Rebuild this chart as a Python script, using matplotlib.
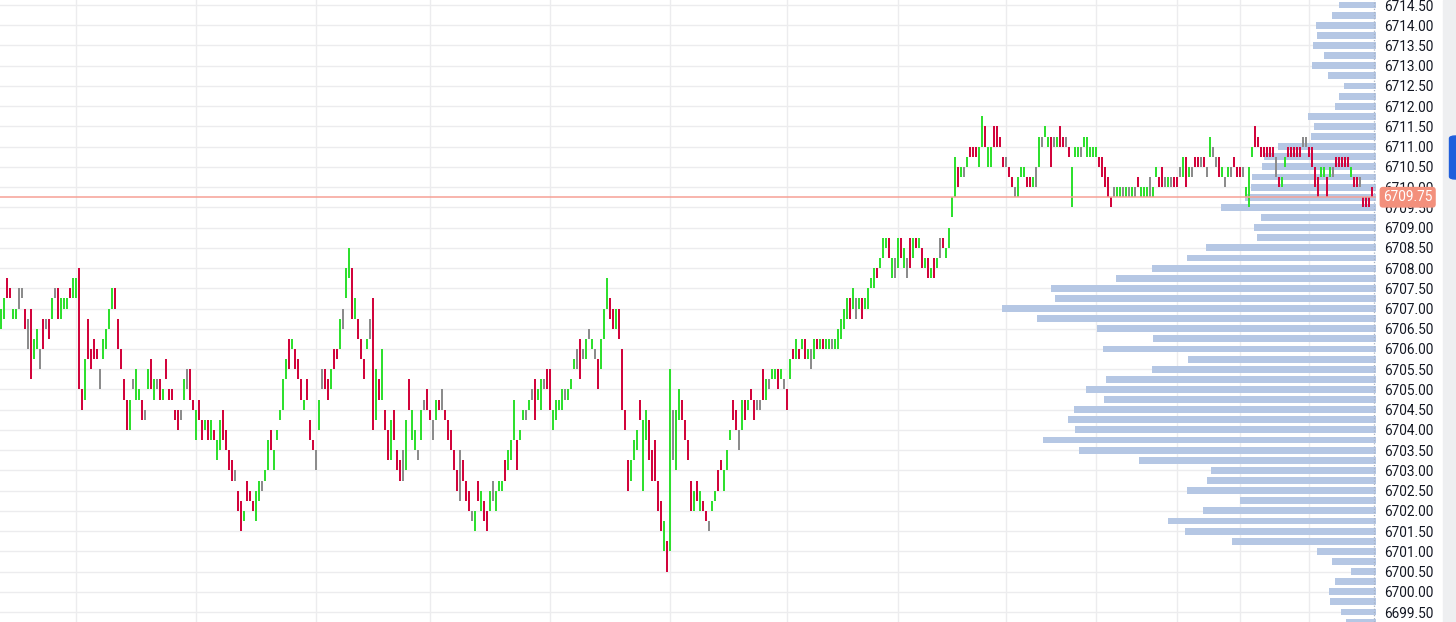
import matplotlib
matplotlib.use("Agg")
import matplotlib.pyplot as plt
import numpy as np
from matplotlib.transforms import blended_transform_factory
from matplotlib.patches import Rectangle, FancyBboxPatch

plt.rcParams['font.family'] = ['Roboto', 'DejaVu Sans']

# ---------------- candle data (low / high / direction), 10 candles per line ----------------
lows = [
    6706.5, 6706.75, 6707.25, 6707.25, 6706.75, 6706.75, 6707.0, 6707.25, 6706.5, 6706.0,
    6705.25, 6705.75, 6706.0, 6705.5, 6706.0, 6706.5, 6706.25, 6706.75, 6707.25, 6706.75,
    6706.75, 6707.0, 6707.0, 6707.25, 6707.25, 6707.25, 6705.0, 6704.5, 6704.75, 6705.75,
    6705.5, 6705.75, 6705.75, 6705.0, 6705.75, 6706.0, 6706.5, 6707.0, 6707.0, 6706.0,
    6705.5, 6704.75, 6704.0, 6704.0, 6705.0, 6704.75, 6704.75, 6704.25, 6704.25, 6705.0,
    6705.0, 6704.75, 6705.0, 6704.75, 6704.75, 6705.25, 6704.75, 6704.75, 6704.25, 6704.0,
    6704.25, 6704.75, 6705.0, 6704.75, 6704.5, 6703.75, 6704.25, 6703.75, 6704.0, 6703.75,
    6703.75, 6703.75, 6703.25, 6703.5, 6703.75, 6703.5, 6703.0, 6702.75, 6702.75, 6702.0,
    6701.5, 6701.75, 6702.25, 6702.25, 6702.0, 6701.75, 6702.25, 6702.5, 6702.75, 6703.0,
    6703.5, 6703.0, 6703.75, 6704.25, 6704.5, 6705.25, 6705.5, 6706.0, 6705.5, 6705.25,
    6704.75, 6704.5, 6704.75, 6703.75, 6703.5, 6703.0, 6704.0, 6705.0, 6705.0, 6704.75,
    6705.0, 6705.5, 6705.75, 6706.0, 6706.5, 6707.25, 6707.75, 6706.75, 6706.75, 6706.25,
    6705.75, 6705.25, 6706.0, 6706.25, 6704.0, 6704.25, 6704.75, 6704.75, 6704.0, 6703.25,
    6703.25, 6703.75, 6703.0, 6702.75, 6702.75, 6703.0, 6704.5, 6703.75, 6703.5, 6703.25,
    6703.75, 6704.5, 6704.5, 6704.25, 6703.75, 6704.25, 6704.5, 6704.5, 6704.25, 6703.75,
    6703.5, 6703.0, 6702.5, 6702.25, 6702.75, 6702.25, 6702.0, 6701.75, 6701.5, 6702.25,
    6702.0, 6701.75, 6701.5, 6702.0, 6702.25, 6702.0, 6702.5, 6702.5, 6702.75, 6703.0,
    6703.25, 6703.75, 6703.0, 6703.75, 6704.25, 6704.25, 6704.5, 6704.75, 6704.25, 6704.75,
    6704.5, 6705.0, 6705.0, 6704.5, 6704.0, 6704.25, 6704.5, 6704.5, 6704.75, 6704.75,
    6705.0, 6705.5, 6705.5, 6705.25, 6705.75, 6705.75, 6706.25, 6706.0, 6705.75, 6705.0,
    6705.5, 6706.25, 6707.0, 6706.75, 6706.5, 6706.5, 6706.25, 6704.5, 6704.0, 6702.5,
    6702.75, 6703.25, 6703.5, 6704.25, 6702.5, 6703.75, 6703.25, 6702.75, 6702.75, 6702.0,
    6701.5, 6701.0, 6700.5, 6701.0, 6703.25, 6703.0, 6704.25, 6704.25, 6703.75, 6703.25,
    6702.0, 6702.0, 6702.25, 6702.0, 6702.0, 6701.75, 6701.5, 6702.0, 6702.25, 6702.5,
    6703.0, 6702.5, 6703.0, 6703.75, 6704.25, 6704.0, 6703.5, 6704.0, 6704.25, 6704.5,
    6704.75, 6704.25, 6704.5, 6704.5, 6704.75, 6704.75, 6705.0, 6705.25, 6705.25, 6705.0,
    6705.25, 6705.0, 6704.5, 6705.25, 6705.75, 6705.75, 6705.75, 6706.0, 6705.75, 6705.75,
    6705.5, 6705.75, 6706.0, 6706.0, 6706.0, 6706.0, 6706.0, 6706.0, 6706.0, 6706.0,
    6706.25, 6706.5, 6706.75, 6706.75, 6707.0, 6706.75, 6707.0, 6706.75, 6707.0, 6707.0,
    6707.5, 6707.5, 6707.75, 6708.0, 6708.25, 6708.5, 6708.25, 6707.75, 6707.75, 6708.0,
    6708.25, 6708.0, 6707.75, 6708.0, 6708.25, 6708.5, 6708.5, 6708.0, 6708.0, 6707.75,
    6707.75, 6707.75, 6708.0, 6708.25, 6708.5, 6708.25, 6708.5, 6709.25, 6709.75, 6710.0,
    6710.25, 6710.25, 6710.5, 6710.75, 6710.75, 6710.75, 6710.5, 6711.0, 6711.0, 6710.5,
    6710.5, 6711.0, 6711.0, 6711.0, 6710.5, 6710.5, 6710.25, 6710.0, 6709.75, 6709.75,
    6710.25, 6710.25, 6710.0, 6710.0, 6710.0, 6710.0, 6710.5, 6711.0, 6711.25, 6711.0,
    6710.5, 6711.0, 6711.0, 6711.0, 6711.0, 6711.0, 6710.75, 6709.5, 6710.75, 6710.75,
    6710.75, 6711.0, 6710.75, 6710.75, 6710.75, 6710.75, 6710.5, 6710.25, 6710.0, 6709.75,
    6709.5, 6709.75, 6709.75, 6709.75, 6709.75, 6709.75, 6709.75, 6709.75, 6709.75, 6710.0,
    6709.75, 6709.75, 6709.75, 6709.75, 6709.75, 6710.25, 6710.0, 6710.0, 6710.0, 6710.0,
    6710.0, 6710.0, 6710.0, 6710.25, 6710.25, 6710.0, 6710.25, 6710.25, 6710.5, 6710.5,
    6710.5, 6710.5, 6710.25, 6710.75, 6710.75, 6710.5, 6710.25, 6710.25, 6710.0, 6710.25,
    6710.25, 6710.5, 6710.25, 6710.25, 6710.25, 6709.75, 6709.5, 6710.75, 6711.0, 6711.0,
    6710.75, 6710.75, 6710.75, 6710.75, 6710.75, 6710.25, 6710.0, 6710.0, 6710.5, 6710.75,
    6710.75, 6710.75, 6710.75, 6710.75, 6711.0, 6711.0, 6710.75, 6710.5, 6710.0, 6709.75,
    6710.25, 6710.25, 6709.75, 6710.25, 6710.25, 6710.5, 6710.5, 6710.5, 6710.5, 6710.5,
    6710.25, 6710.0, 6710.0, 6710.0, 6709.5, 6709.5, 6709.5, 6709.75,
]
highs = [
    6707.0, 6707.25, 6707.75, 6707.5, 6707.0, 6707.0, 6707.5, 6707.5, 6707.0, 6706.75,
    6707.0, 6706.25, 6706.5, 6706.0, 6706.75, 6706.75, 6706.75, 6707.25, 6707.5, 6707.5,
    6707.25, 6707.25, 6707.25, 6707.5, 6707.75, 6707.75, 6708.0, 6705.0, 6705.75, 6706.75,
    6706.0, 6706.25, 6706.0, 6705.5, 6706.25, 6706.5, 6707.0, 6707.5, 6707.5, 6706.75,
    6706.0, 6705.25, 6704.75, 6704.75, 6705.25, 6705.5, 6705.0, 6704.75, 6704.5, 6705.5,
    6705.75, 6705.25, 6705.25, 6705.25, 6705.0, 6705.75, 6705.0, 6705.0, 6704.5, 6704.5,
    6704.5, 6705.25, 6705.5, 6705.5, 6704.75, 6704.5, 6704.75, 6704.25, 6704.25, 6704.25,
    6704.25, 6704.0, 6703.75, 6704.25, 6704.5, 6704.0, 6703.5, 6703.25, 6703.0, 6702.5,
    6702.25, 6702.0, 6702.75, 6702.5, 6702.25, 6702.5, 6702.75, 6702.75, 6703.0, 6703.75,
    6704.0, 6703.5, 6704.0, 6704.5, 6705.25, 6705.75, 6706.25, 6706.25, 6706.0, 6705.75,
    6705.25, 6704.75, 6705.25, 6704.25, 6703.75, 6703.5, 6704.75, 6705.5, 6705.5, 6705.25,
    6705.5, 6706.0, 6706.0, 6706.75, 6707.0, 6708.0, 6708.5, 6708.0, 6707.25, 6706.75,
    6706.25, 6705.75, 6706.25, 6706.75, 6707.25, 6705.5, 6705.25, 6706.0, 6704.5, 6704.0,
    6704.25, 6704.5, 6703.5, 6703.25, 6703.5, 6704.25, 6705.25, 6704.5, 6704.0, 6703.5,
    6704.5, 6704.75, 6705.0, 6704.5, 6704.25, 6704.75, 6704.75, 6705.0, 6704.5, 6704.25,
    6704.0, 6703.5, 6703.0, 6703.5, 6703.25, 6702.75, 6702.5, 6702.0, 6702.0, 6702.75,
    6702.5, 6702.25, 6702.0, 6702.5, 6702.75, 6702.5, 6702.75, 6702.75, 6703.25, 6703.5,
    6703.75, 6704.75, 6703.75, 6704.0, 6704.5, 6704.5, 6704.75, 6705.0, 6705.25, 6705.0,
    6705.25, 6705.25, 6705.5, 6705.5, 6704.5, 6704.75, 6704.75, 6705.0, 6705.0, 6705.0,
    6705.25, 6705.75, 6706.0, 6706.25, 6706.0, 6706.25, 6706.5, 6706.25, 6706.0, 6705.75,
    6706.25, 6707.0, 6707.75, 6707.25, 6707.0, 6707.0, 6707.0, 6706.0, 6704.5, 6703.25,
    6703.25, 6703.75, 6704.0, 6704.75, 6704.25, 6704.5, 6704.25, 6703.5, 6703.75, 6702.75,
    6702.25, 6701.75, 6701.25, 6705.5, 6704.5, 6704.5, 6705.0, 6704.75, 6704.25, 6703.75,
    6702.75, 6702.5, 6702.75, 6702.5, 6702.25, 6702.0, 6701.75, 6702.25, 6702.5, 6703.0,
    6703.25, 6703.0, 6703.5, 6704.0, 6704.75, 6704.5, 6704.0, 6704.75, 6704.75, 6704.75,
    6705.0, 6704.75, 6704.75, 6704.75, 6705.5, 6705.25, 6705.25, 6705.5, 6705.5, 6705.5,
    6705.5, 6705.25, 6705.0, 6705.75, 6706.0, 6706.25, 6706.0, 6706.25, 6706.25, 6706.0,
    6706.0, 6706.25, 6706.25, 6706.25, 6706.25, 6706.25, 6706.25, 6706.25, 6706.25, 6706.5,
    6706.75, 6707.0, 6707.25, 6707.25, 6707.5, 6707.25, 6707.25, 6707.25, 6707.25, 6707.5,
    6707.75, 6708.0, 6708.0, 6708.25, 6708.75, 6708.75, 6708.75, 6708.25, 6708.25, 6708.75,
    6708.75, 6708.5, 6708.25, 6708.75, 6708.75, 6708.75, 6708.75, 6708.5, 6708.25, 6708.25,
    6708.0, 6708.25, 6708.25, 6708.75, 6708.75, 6708.5, 6709.0, 6709.75, 6710.75, 6710.5,
    6710.5, 6710.5, 6710.75, 6711.0, 6711.0, 6711.0, 6711.0, 6711.75, 6711.5, 6711.0,
    6711.0, 6711.5, 6711.5, 6711.25, 6710.75, 6710.75, 6710.5, 6710.25, 6710.0, 6710.25,
    6710.5, 6710.5, 6710.25, 6710.25, 6710.25, 6710.5, 6711.25, 6711.25, 6711.5, 6711.25,
    6711.25, 6711.25, 6711.25, 6711.5, 6711.25, 6711.25, 6711.0, 6710.5, 6711.0, 6711.0,
    6711.0, 6711.25, 6711.25, 6711.0, 6711.0, 6711.0, 6710.75, 6710.75, 6710.5, 6710.25,
    6709.75, 6710.0, 6710.0, 6710.0, 6710.0, 6710.0, 6710.0, 6710.0, 6710.0, 6710.25,
    6710.0, 6710.0, 6710.0, 6710.25, 6710.0, 6710.5, 6710.25, 6710.5, 6710.25, 6710.25,
    6710.25, 6710.25, 6710.25, 6710.5, 6710.75, 6710.75, 6710.5, 6710.5, 6710.75, 6710.75,
    6710.75, 6710.75, 6710.5, 6711.25, 6711.0, 6710.75, 6710.75, 6710.5, 6710.25, 6710.5,
    6710.5, 6710.75, 6710.5, 6710.5, 6710.5, 6710.0, 6710.5, 6711.0, 6711.5, 6711.25,
    6711.0, 6711.0, 6711.0, 6711.0, 6711.0, 6710.75, 6710.25, 6710.25, 6710.75, 6711.0,
    6711.0, 6711.0, 6711.0, 6711.0, 6711.25, 6711.25, 6711.0, 6711.0, 6710.5, 6710.25,
    6710.5, 6710.5, 6710.25, 6710.5, 6710.5, 6710.75, 6710.75, 6710.75, 6710.75, 6710.75,
    6710.5, 6710.25, 6710.25, 6710.25, 6709.75, 6709.75, 6709.75, 6710.0,
]
# g = up candle, r = down candle, n = unchanged
direction_blocks = [
    "ggrrggnnrn", "rggnrnrgnr", "gggrggrrgr", "rrrnggggrr", "rrrgnggrng",
    "rgnrgrrrrr", "ngnrrgrrgr", "grggrrrrnr", "rgrrrggngg", "rgggggrgrr",
    "rgrrrngnrr", "grrgnggrgr", "rrgnrgrgrr", "grrrngrggn", "gnrrngrnrr",
    "rrrnrrrngr", "grrgngggrg", "ggrggngnrg", "gnrrggggng", "ggnrngngnr",
    "gggrrgrrrr", "gggrggrrrr", "rgrgnggrrr", "rgrgrrnggr", "rgggrrngrg",
    "rrnnrgnggr", "gnrgrgrgrg", "ngrgrggngg", "gggrgngrgg", "ggrgggrgng",
    "rgnrgrgrgr", "grgnrggggr", "gngrrrggrg", "grrrrnrrng", "ggrrgngngg",
    "rngrrnrggg", "ngggggrrrr", "rnggngngnr", "gggnggrrng", "nrrngrgnrr",
    "nrngnnrgng", "nrrrngggrr", "rrrrrnrggr", "rrrrnnrrrr", "ggrgnrrrrr",
    "grrnrrrr",
]
directions = "".join(direction_blocks)

last_price = 6709.75

# volume profile (price level -> traded volume, arbitrary units)
profile_prices = [
    6714.50, 6714.25, 6714.00, 6713.75, 6713.50, 6713.25, 6713.00, 6712.75,
    6712.50, 6712.25, 6712.00, 6711.75, 6711.50, 6711.25, 6711.00, 6710.75,
    6710.50, 6710.25, 6710.00, 6709.75, 6709.50, 6709.25, 6709.00, 6708.75,
    6708.50, 6708.25, 6708.00, 6707.75, 6707.50, 6707.25, 6707.00, 6706.75,
    6706.50, 6706.25, 6706.00, 6705.75, 6705.50, 6705.25, 6705.00, 6704.75,
    6704.50, 6704.25, 6704.00, 6703.75, 6703.50, 6703.25, 6703.00, 6702.75,
    6702.50, 6702.25, 6702.00, 6701.75, 6701.50, 6701.25, 6701.00, 6700.75,
    6700.50, 6700.25, 6700.00, 6699.75, 6699.50, 6699.25,
]
profile_volumes = [
    37, 44, 60, 59, 63, 52, 64, 48,
    32, 37, 41, 68, 62, 65, 98, 112,
    114, 124, 125, 131, 155, 115, 122, 119,
    170, 188, 223, 259, 324, 320, 373, 338,
    278, 222, 272, 187, 223, 269, 289, 271,
    301, 307, 300, 332, 296, 236, 165, 169,
    188, 136, 173, 207, 190, 144, 59, 44,
    25, 41, 47, 46, 35, 30,
]

# time ticks (candle index of vertical grid lines)
time_ticks = [25, 65, 105, 143, 183, 223, 262, 299, 335, 365, 392, 413, 436]

# ---------------- figure ----------------
W, H = 1456, 622
fig = plt.figure(figsize=(W / 100, H / 100), dpi=100, facecolor='white')
plot_right_px = 1376
ax = fig.add_axes([0, 0, plot_right_px / W, 1])
ax.set_facecolor('white')

n = min(len(lows), len(highs), len(directions))
idx = np.arange(n)
lo = np.array(lows[:n])
hi = np.array(highs[:n])
col_map = {'g': '#2fe02f', 'r': '#d2043c', 'n': '#8c8c8c'}
cols = [col_map[d] for d in directions[:n]]

# volume profile bars (x in axes fraction, anchored at the right edge)
trans = blended_transform_factory(ax.transAxes, ax.transData)
vmax = max(profile_volumes)
frac = 374 / plot_right_px
widths = [v / vmax * frac for v in profile_volumes]
ax.barh(profile_prices, widths, left=[1 - w for w in widths], height=0.17,
        color='#b5c7e4', transform=trans, zorder=2, linewidth=0)

# candles
ax.bar(idx, hi - lo, bottom=lo, width=0.62, color=cols, linewidth=0, zorder=3)

# last price line
ax.axhline(last_price, color='#f6a196', lw=1.1, zorder=4)

# axes limits
ax.set_xlim(-1 / 3, (plot_right_px - 1) / 3)
ax.set_ylim(6699.254, 6714.624)

# grid and ticks
yt = np.arange(6699.5, 6714.51, 0.5)
ax.set_yticks(yt)
ax.set_yticklabels([f'{v:.2f}' for v in yt])
ax.set_xticks(time_ticks)
ax.tick_params(axis='x', length=0, labelbottom=False)
ax.yaxis.tick_right()
ax.tick_params(axis='y', length=0, pad=5.5, labelsize=9.8, labelcolor='#131722')
ax.grid(True, color='#ececee', lw=1.0, zorder=0)
ax.set_axisbelow(True)
for s in ax.spines.values():
    s.set_visible(False)

# dotted right boundary of the plot
ax.plot([0.9985, 0.9985], [0, 1], transform=ax.transAxes, ls=(0, (1, 1.5)),
        color='#a9b3c3', lw=0.9, zorder=5, clip_on=False)

# last-price tag
ax.text(1.0 + 7 / plot_right_px, last_price, f'{last_price:.2f}', transform=trans,
        ha='left', va='center', fontsize=9.8, color='white', zorder=6,
        bbox=dict(boxstyle='round,pad=0.25,rounding_size=0.25', fc='#f3907c', ec='none'),
        clip_on=False)

# right side panel and blue marker
fig.patches.append(Rectangle((1443 / W, 0), (W - 1443) / W, 1, transform=fig.transFigure,
                             color='#eeeff1', zorder=0))
fig.patches.append(FancyBboxPatch((1449.5 / W, (H - 179) / H), 12 / W, 43 / H,
                                  boxstyle='round,pad=0,rounding_size=0.004',
                                  transform=fig.transFigure, color='#1f5fdc', zorder=1))

fig.savefig('out.png', dpi=100, facecolor='white')
